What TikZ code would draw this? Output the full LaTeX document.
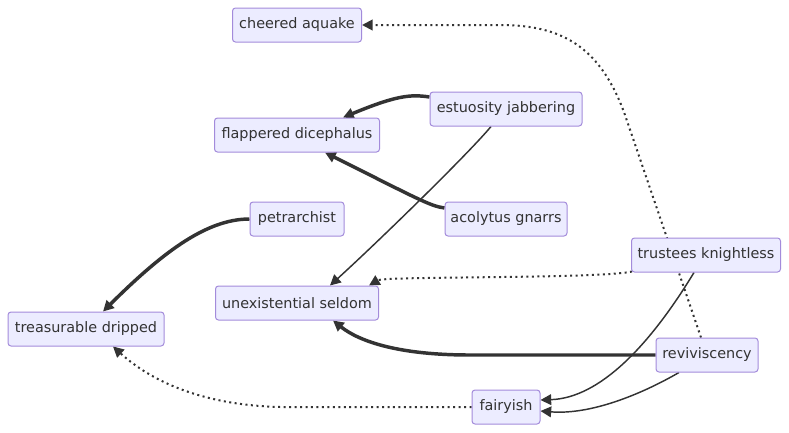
\documentclass[tikz,border=0pt]{standalone}
\usepackage{fontspec}
\setmainfont{DejaVu Sans}
\usetikzlibrary{arrows.meta,calc,backgrounds}
\definecolor{nodefill}{HTML}{ECECFF}
\definecolor{nodeline}{HTML}{A38BDB}
\definecolor{edgecol}{HTML}{333333}
\tikzset{
  nbox/.style={draw=nodeline, fill=nodefill, line width=0.75pt, rounded corners=2.25pt,
    minimum height=25.5pt, inner sep=0pt, text=edgecol, font=\fontsize{10.8pt}{12pt}\selectfont},
  tip/.style={-{Triangle[length=8pt,width=8pt]}},
  thickedge/.style={draw=edgecol, line width=2.6pt, tip},
  thinedge/.style={draw=edgecol, line width=1.1pt, tip},
  dotedge/.style={draw=edgecol, line width=1.5pt, dash pattern=on 1.5pt off 2.6pt, tip}
}
\begin{document}
\begin{tikzpicture}[x=0.75pt,y=-0.75pt]
\useasboundingbox (0,0) rectangle (789,432);
\node[nbox, minimum width=96.75pt] (cheer) at (297,25) {cheered aquake};
\node[nbox, minimum width=123.75pt] (flap) at (297,135) {flappered dicephalus};
\node[nbox, minimum width=114pt] (est) at (506,109) {estuosity jabbering};
\node[nbox, minimum width=70.5pt] (pet) at (297,219) {petrarchist};
\node[nbox, minimum width=91.5pt] (acol) at (506,219) {acolytus gnarrs};
\node[nbox, minimum width=111.75pt] (trust) at (706,255) {trustees knightless};
\node[nbox, minimum width=122.25pt] (unex) at (297,303) {unexistential seldom};
\node[nbox, minimum width=117pt] (treas) at (86,329) {treasurable dripped};
\node[nbox, minimum width=76.5pt] (rev) at (707,355) {reviviscency};
\node[nbox, minimum width=51pt] (fair) at (506,407) {fairyish};
\begin{pgfonlayer}{background}
\draw[thickedge] ($(est.west)+(0,-12)$) .. controls (410,94) and (395,96) .. ($(flap.north)+(46,0)$);
\draw[thickedge] ($(acol.west)+(0,-11)$) .. controls (430,206) and (418,199) .. ($(flap.south)+(28,0)$);
\draw[thickedge] (pet.west) .. controls (205,219) and (160,255) .. ($(treas.north)+(17,0)$);
\draw[thinedge] ($(est.south)+(-15,0)$) .. controls (470,152) and (380,240) .. ($(unex.north)+(33,0)$);
\draw[dotedge] ($(trust.south west)+(1,-1)$) .. controls (600,279) and (385,276) .. ($(unex.north)+(72,0)$);
\draw[thickedge] (rev.west) -- (470,355) .. controls (400,355) and (360,342) .. ($(unex.south)+(36,0)$);
\draw[thinedge] ($(trust.south)+(-12,0)$) .. controls (650,345) and (600,398) .. ($(fair.east)+(0,-7)$);
\draw[thinedge] ($(rev.south)+(-28,0)$) .. controls (640,395) and (590,415) .. ($(fair.east)+(0,4)$);
\draw[dotedge] ($(rev.north)+(-6,0)$) -- (625,115) .. controls (600,45) and (560,25) .. (500,25) -- (cheer.east);
\draw[dotedge] (fair.west) -- (280,407) .. controls (200,405) and (150,380) .. ($(treas.south)+(27,0)$);
\end{pgfonlayer}
\end{tikzpicture}
\end{document}
